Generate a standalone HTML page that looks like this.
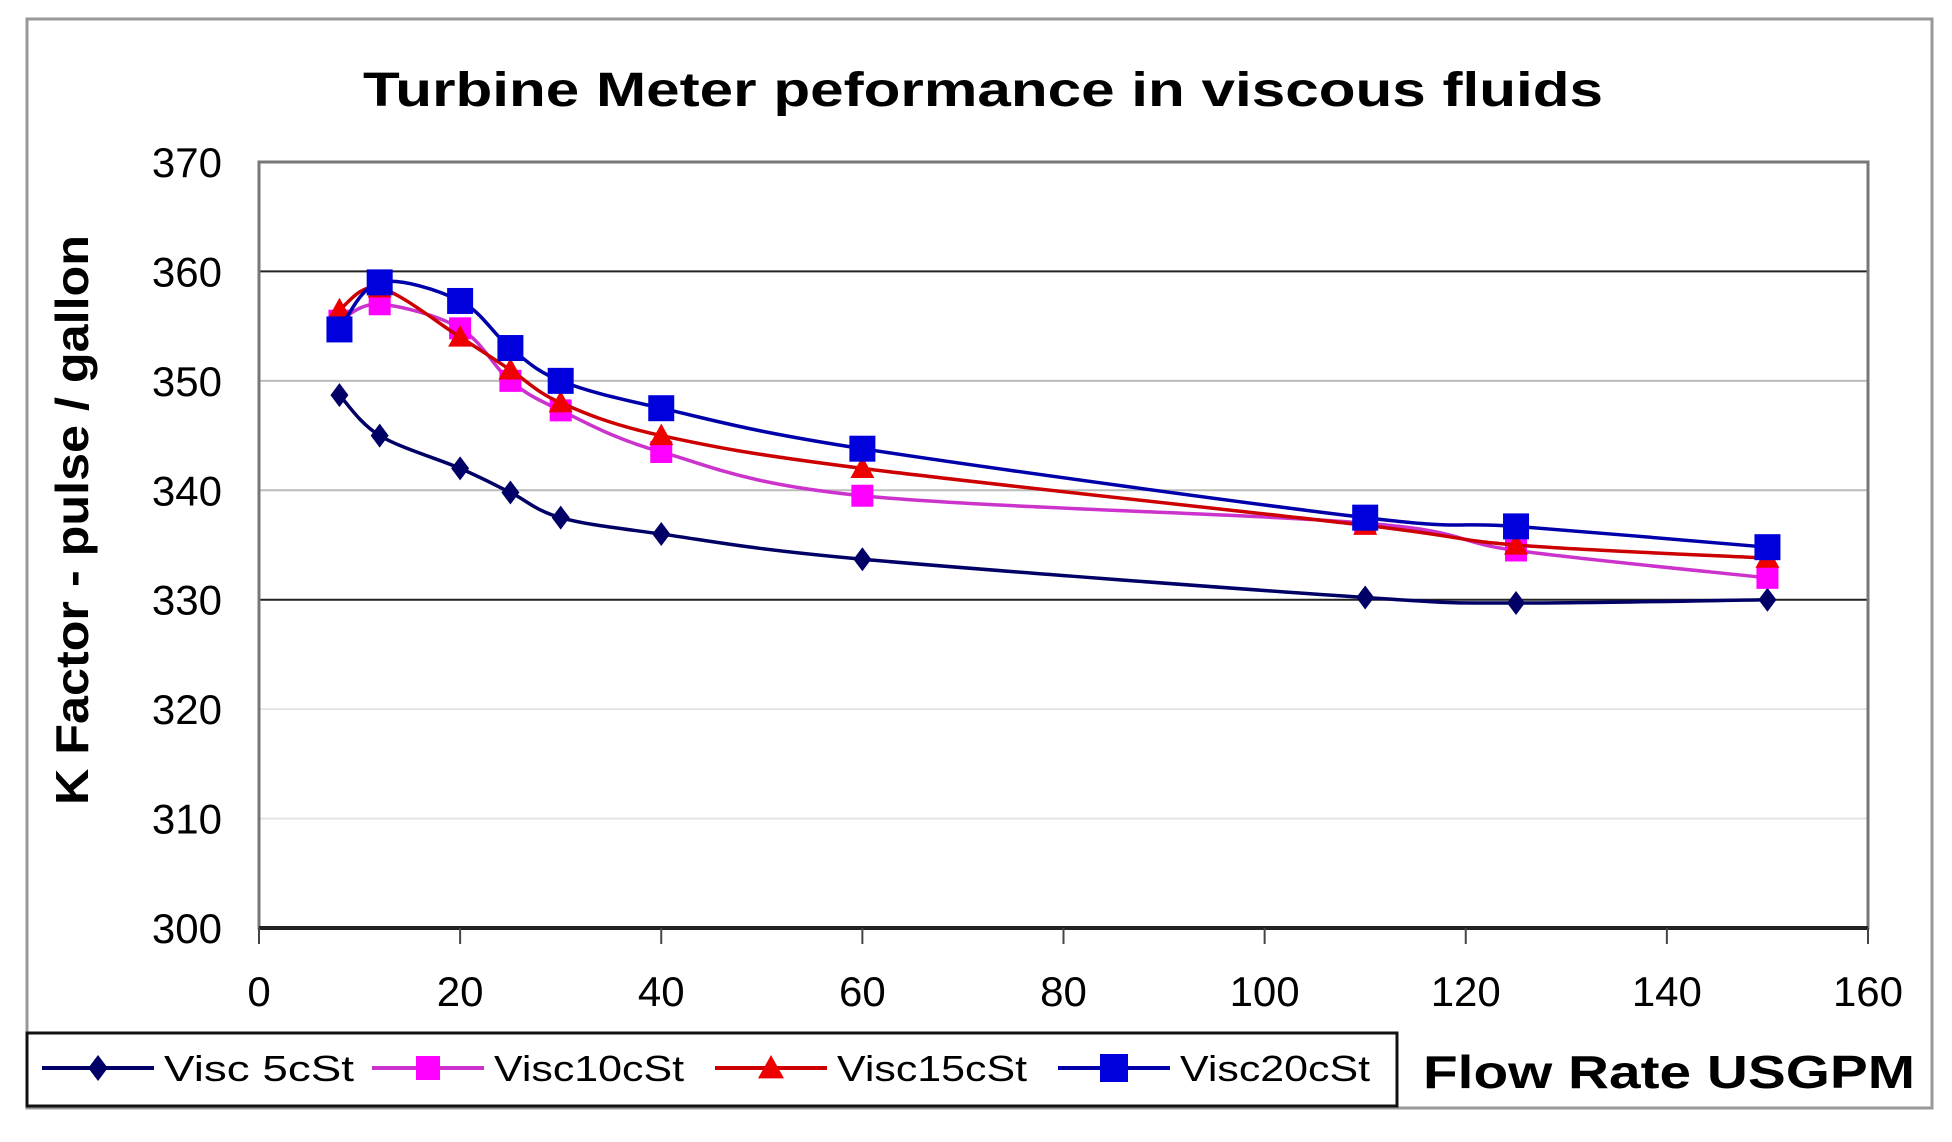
<!DOCTYPE html>
<html><head><meta charset="utf-8"><style>
html,body{margin:0;padding:0;background:#fff}
svg{display:block;font-family:"Liberation Sans",Arial,sans-serif}
</style></head><body>
<svg id="chart" width="1952" height="1142" viewBox="0 0 1952 1142">
<rect x="27" y="19" width="1905" height="1089" fill="#fff" stroke="#999" stroke-width="3"/>
<text x="983" y="106" text-anchor="middle" font-size="48" font-weight="bold" textLength="1240" lengthAdjust="spacingAndGlyphs">Turbine Meter peformance in viscous fluids</text>
<g id="grid"></g>
<g id="axes"></g>
<g id="series"></g>
<text transform="translate(88,520) rotate(-90)" text-anchor="middle" font-size="46" font-weight="bold" textLength="570" lengthAdjust="spacingAndGlyphs">K Factor - pulse / gallon</text>
<rect x="27" y="1033" width="1370" height="73" fill="#fff" stroke="#111" stroke-width="3"/>
<g id="legend"></g>
<text x="1423" y="1088" font-size="46" font-weight="bold" textLength="492" lengthAdjust="spacingAndGlyphs">Flow Rate USGPM</text>
</svg>
<script>
const flowRates = [8, 12, 20, 25, 30, 40, 60, 110, 125, 150];
const visc5 = [348.7, 345, 342, 339.8, 337.5, 336, 333.7, 330.2, 329.7, 330];
const visc10 = [355.5, 357, 354.8, 350, 347.3, 343.5, 339.5, 337, 334.5, 332];
const visc15 = [356.5, 358.5, 354, 351, 348, 345, 342, 336.8, 335, 333.8];
const visc20 = [354.7, 359, 357.3, 353, 350, 347.5, 343.8, 337.5, 336.7, 334.8];
const seriesNames = ["Visc 5cSt", "Visc10cSt", "Visc15cSt", "Visc20cSt"];
const xTicks = [0, 20, 40, 60, 80, 100, 120, 140, 160];
const yTicks = [300, 310, 320, 330, 340, 350, 360, 370];

const NS = "http://www.w3.org/2000/svg";
const L = 259, R = 1868, T = 162, B = 928;
const xs = v => L + (v - 0) / 160 * (R - L);
const ys = v => B - (v - 300) / 70 * (B - T);
function mk(tag, attrs, parent) {
  const e = document.createElementNS(NS, tag);
  for (const k in attrs) e.setAttribute(k, attrs[k]);
  parent.appendChild(e);
  return e;
}
const grid = document.getElementById('grid'), axes = document.getElementById('axes');
const gridColors = {310: "#e4e4e4", 320: "#e4e4e4", 330: "#222", 340: "#bbb", 350: "#bbb", 360: "#222"};
yTicks.forEach(t => {
  if (gridColors[t]) {
    const g = mk('line', {x1: L, x2: R, y1: ys(t), y2: ys(t), stroke: gridColors[t], 'stroke-width': 2}, grid);
    
    
  }
  const lb = mk('text', {x: 222, y: ys(t) + 15, 'text-anchor': 'end', 'font-size': 42}, axes);
  lb.textContent = t;
  
  
});
const pb = mk('rect', {x: L, y: T, width: R - L, height: B - T, fill: 'none', stroke: '#777', 'stroke-width': 3}, axes);


const xa = mk('line', {x1: L, x2: R, y1: B, y2: B, stroke: '#222', 'stroke-width': 4}, axes);


xTicks.forEach(t => {
  const tk = mk('line', {x1: xs(t), x2: xs(t), y1: B, y2: B + 16, stroke: '#444', 'stroke-width': 2}, axes);
  
  
  const lb = mk('text', {x: xs(t), y: 1006, 'text-anchor': 'middle', 'font-size': 42}, axes);
  lb.textContent = t;
  
  
});
function smooth(pts) {
  let d = `M${pts[0][0]},${pts[0][1]}`;
  for (let i = 0; i < pts.length - 1; i++) {
    const p0 = pts[i - 1] || pts[i], p1 = pts[i], p2 = pts[i + 1], p3 = pts[i + 2] || p2;
    const c1 = [p1[0] + (p2[0] - p0[0]) / 6, p1[1] + (p2[1] - p0[1]) / 6];
    const c2 = [p2[0] - (p3[0] - p1[0]) / 6, p2[1] - (p3[1] - p1[1]) / 6];
    d += ` C${c1[0]},${c1[1]} ${c2[0]},${c2[1]} ${p2[0]},${p2[1]}`;
  }
  return d;
}
function marker(kind, x, y, color, parent, s) {
  if (kind === 'diamond') return mk('polygon', {points: `${x},${y-s} ${x+s*0.75},${y} ${x},${y+s} ${x-s*0.75},${y}`, fill: color}, parent);
  if (kind === 'square') return mk('rect', {x: x - s, y: y - s, width: 2 * s, height: 2 * s, fill: color}, parent);
  return mk('polygon', {points: `${x},${y-s} ${x+s},${y+s*0.8} ${x-s},${y+s*0.8}`, fill: color}, parent);
}
const seriesData = [visc5, visc10, visc15, visc20];
const colors = ["#000066", "#ff00ff", "#ee0000", "#0000dd"];
const lineColors = ["#000066", "#cc33cc", "#cc0000", "#0000aa"];
const kinds = ['diamond', 'square', 'triangle', 'square'];
const sizes = [12, 11, 12, 13];
const sg = document.getElementById('series');
seriesData.forEach((vals, si) => {
  const g = mk('g', {}, sg);
  
  
  const pts = vals.map((v, i) => [xs(flowRates[i]), ys(v)]);
  const p = mk('path', {d: smooth(pts), fill: 'none', stroke: lineColors[si], 'stroke-width': 3.5}, g);
  
  
  pts.forEach((pt, i) => {
    const m = marker(kinds[si], pt[0], pt[1], colors[si], g, sizes[si]);
    
    
  });
});
const lg = document.getElementById('legend');
const legX = [42, 372, 715, 1058];
seriesNames.forEach((n, i) => {
  const x = legX[i], y = 1068;
  const ln = mk('line', {x1: x, x2: x + 112, y1: y, y2: y, stroke: lineColors[i], 'stroke-width': 4}, lg);
  
  
  const m = marker(kinds[i], x + 56, y, colors[i], lg, sizes[i] + 1);
  
  
  const t = mk('text', {x: x + 122, y: y + 13, 'font-size': 36, textLength: 190, lengthAdjust: 'spacingAndGlyphs'}, lg);
  t.textContent = n;
  
  
});
</script>
</body></html>
